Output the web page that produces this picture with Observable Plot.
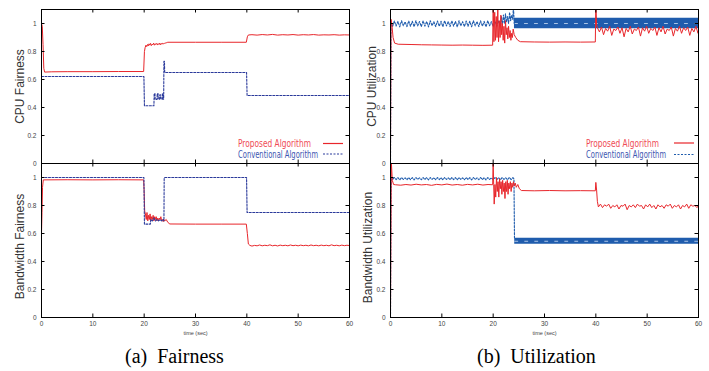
<!DOCTYPE html>
<html><head><meta charset="utf-8">
<script src="https://cdn.jsdelivr.net/npm/d3@7"></script>
<script src="https://cdn.jsdelivr.net/npm/@observablehq/plot@0.6"></script>
<style>
html,body{margin:0;padding:0;background:#fff;}
#root{position:relative;width:709px;height:371px;overflow:hidden;background:#fff;}
.panel{position:absolute;}
.cap{position:absolute;font-family:"Liberation Serif","Times New Roman",serif;font-size:20px;line-height:1;color:#000;white-space:pre;}
#legend{position:absolute;left:0;top:0;}
</style></head><body><div id="root"></div>
<script>
// ---------- labels ----------
const xTicks = [0, 10, 20, 30, 40, 50, 60];
const yTicks = [0, 0.2, 0.4, 0.6, 0.8, 1];
const panelLabels = ["CPU Fairness", "Bandwidth Fairness", "CPU Utilization", "Bandwidth Utilization"];
const seriesNames = ["Proposed Algorithm", "Conventional Algorithm"];
const captionTags = ["(a)", "(b)"];
const captionWords = ["Fairness", "Utilization"];
const xLabel = "time (sec)";

// ---------- data: [time (sec), value] ----------
const propCpuFair = [[0,1.0],[0.15,0.98],[0.3,0.85],[0.45,0.68],[0.6,0.653],[2,0.655],[5,0.656],[10,0.656],[15,0.657],[19.9,0.657],
 [20.05,0.8],[20.2,0.83],[20.35,0.845],[20.5,0.835],[20.65,0.85],[20.8,0.84],[20.95,0.855],[21.1,0.845],[21.25,0.858],[21.4,0.842],
 [21.55,0.852],[21.7,0.848],[21.85,0.86],[22,0.845],[22.15,0.855],[22.3,0.85],[22.45,0.858],[22.6,0.846],[22.75,0.856],[22.9,0.85],
 [23.05,0.86],[23.2,0.848],[23.35,0.857],[23.5,0.852],[23.65,0.86],[23.8,0.855],[23.95,0.858],[24.1,0.86],[24.3,0.862],[24.6,0.866],
 [30,0.866],[35,0.866],[39.9,0.866],[40.1,0.905],[40.3,0.918],[41,0.92],[42,0.917],[43,0.921],[44,0.918],[45,0.922],[46,0.917],
 [47,0.92],[48,0.918],[49,0.921],[50,0.917],[51,0.92],[52,0.918],[53,0.921],[54,0.917],[55,0.919],[56,0.918],[57,0.92],[58,0.917],[59,0.919],[60,0.918]];
const convCpuFair = [[0,0.621],[19.95,0.621],[20.05,0.413],[21.9,0.413],[21.95,0.5],[22.1,0.5],[22.15,0.458],[22.5,0.458],[22.55,0.5],
 [22.7,0.5],[22.75,0.46],[23.0,0.46],[23.05,0.49],[23.2,0.49],[23.25,0.46],[23.5,0.46],[23.55,0.5],[23.65,0.5],[23.7,0.46],[23.8,0.46],
 [23.85,0.73],[23.95,0.73],[24.0,0.65],[39.95,0.65],[40.05,0.486],[60,0.486]];
const propBwFair = [[0,0.6],[0.1,0.75],[0.2,0.93],[0.35,0.983],[5,0.984],[10,0.983],[15,0.984],[19.9,0.983],[20.0,0.9],[20.1,0.76],
 [20.25,0.74],[20.4,0.7],[20.55,0.75],[20.7,0.69],[20.85,0.73],[21.0,0.7],[21.15,0.74],[21.3,0.69],[21.45,0.72],[21.6,0.7],[21.75,0.73],
 [21.9,0.69],[22.05,0.72],[22.2,0.7],[22.35,0.72],[22.5,0.69],[22.65,0.71],[22.8,0.69],[22.95,0.71],[23.1,0.7],[23.25,0.72],[23.4,0.69],
 [23.55,0.7],[23.7,0.685],[23.85,0.7],[24.0,0.69],[24.3,0.7],[24.6,0.68],[25,0.668],[30,0.667],[35,0.667],[39.9,0.667],[40.1,0.6],
 [40.3,0.525],[40.6,0.515],[41,0.51],[41.5,0.515],[42,0.512],[42.5,0.518],[43,0.512],[43.5,0.516],[44,0.513],[44.5,0.519],[45,0.512],
 [45.5,0.516],[46,0.511],[46.5,0.517],[47,0.513],[47.5,0.516],[48,0.512],[48.5,0.518],[49,0.513],[49.5,0.516],[50,0.512],[50.5,0.517],
 [51,0.513],[51.5,0.516],[52,0.512],[52.5,0.518],[53,0.513],[53.5,0.516],[54,0.512],[54.5,0.517],[55,0.513],[55.5,0.516],[56,0.512],
 [56.5,0.519],[57,0.513],[57.5,0.516],[58,0.512],[58.5,0.517],[59,0.513],[59.5,0.516],[60,0.514]];
const convBwFair = [[0,1],[19.95,1],[20.05,0.667],[21.2,0.667],[21.3,0.7],[21.6,0.69],[21.9,0.71],[22.2,0.69],[22.5,0.7],[22.8,0.69],
 [23.1,0.7],[23.4,0.69],[23.7,0.7],[23.85,0.69],[23.9,1],[39.95,1],[40.05,0.75],[60,0.75]];

const propCpuUtil = [[0,0],[0.1,1.03],[0.25,1.0],[0.5,0.9],[0.8,0.86],[1.5,0.852],[4,0.85],[6,0.848],[8,0.847],[10,0.846],[12,0.845],
 [14,0.846],[16,0.845],[18,0.844],[19.9,0.845],[20.0,1.15],[20.15,0.87],[20.3,1.08],[20.45,0.88],[20.6,1.05],[20.75,0.9],[20.9,1.1],
 [21.05,0.87],[21.2,1.02],[21.35,0.9],[21.5,1.06],[21.65,0.92],[21.8,1.0],[21.95,0.88],[22.1,0.98],[22.25,0.86],[22.4,1.02],[22.55,0.92],
 [22.7,0.97],[22.85,0.89],[23.0,0.98],[23.15,0.9],[23.3,0.95],[23.45,0.88],[23.6,0.93],[23.75,0.9],[23.9,0.96],[24.1,0.92],[24.4,0.9],
 [24.8,0.88],[25.3,0.87],[28,0.868],[31,0.867],[34,0.868],[37,0.867],[39.9,0.868],[40.0,1.15],[40.15,0.99],
 [40.3,0.97],[40.7,0.94],[41.1,0.975],[41.5,0.92],[41.9,0.965],[42.3,0.945],[42.7,0.98],[43.1,0.915],[43.5,0.96],[43.9,0.95],[44.3,0.975],
 [44.7,0.93],[45.1,0.97],[45.5,0.905],[45.9,0.965],[46.3,0.94],[46.7,0.98],[47.1,0.925],[47.5,0.96],[47.9,0.95],[48.3,0.975],[48.7,0.91],
 [49.1,0.97],[49.5,0.945],[49.9,0.98],[50.3,0.93],[50.7,0.965],[51.1,0.95],[51.5,0.975],[51.9,0.915],[52.3,0.97],[52.7,0.94],[53.1,0.98],
 [53.5,0.925],[53.9,0.96],[54.3,0.95],[54.7,0.975],[55.1,0.91],[55.5,0.965],[55.9,0.945],[56.3,0.98],[56.7,0.93],[57.1,0.97],[57.5,0.95],
 [57.9,0.975],[58.3,0.915],[58.7,0.965],[59.1,0.94],[59.5,0.98],[59.9,0.93],[60,0.95]];
const convCpuUtil = [[0,0],[0.1,0.98],[0.2,1.0],[0.4,0.978],[0.75,1.018],[1.1,0.982],[1.45,1.015],[1.8,0.976],[2.15,1.02],[2.5,0.984],
 [2.85,1.012],[3.2,0.978],[3.55,1.018],[3.9,0.98],[4.25,1.016],[4.6,0.977],[4.95,1.02],[5.3,0.983],[5.65,1.014],[6.0,0.978],[6.35,1.019],
 [6.7,0.981],[7.05,1.015],[7.4,0.976],[7.75,1.02],[8.1,0.984],[8.45,1.013],[8.8,0.978],[9.15,1.018],[9.5,0.98],[9.85,1.016],[10.2,0.977],
 [10.55,1.02],[10.9,0.983],[11.25,1.014],[11.6,0.978],[11.95,1.019],[12.3,0.981],[12.65,1.015],[13.0,0.976],[13.35,1.02],[13.7,0.984],
 [14.05,1.013],[14.4,0.978],[14.75,1.018],[15.1,0.98],[15.45,1.016],[15.8,0.977],[16.15,1.02],[16.5,0.983],[16.85,1.014],[17.2,0.978],
 [17.55,1.019],[17.9,0.981],[18.25,1.015],[18.6,0.976],[18.95,1.02],[19.3,0.984],[19.65,1.013],[20.0,0.978],[20.35,1.018],[20.7,0.98],
 [21.05,1.02],[21.4,0.985],[21.6,1.05],[21.8,0.99],[22.0,1.06],[22.2,1.0],[22.4,1.07],[22.6,1.01],[22.8,1.05],[23.0,1.0],[23.2,1.08],
 [23.4,1.02],[23.6,1.06],[23.8,1.03],[23.95,1.12],[24.1,1.0]];
const convCpuUtilBand = [[24.15,0.963,1.037],[60,0.963,1.037]]; // [time, low, high]

const propBwUtil = [[0,0],[0.15,1.12],[0.35,0.98],[0.6,0.95],[1,0.948],[2,0.945],[3,0.95],[4,0.946],[5,0.952],[6,0.947],[7,0.95],
 [8,0.944],[9,0.951],[10,0.947],[11,0.953],[12,0.946],[13,0.95],[14,0.945],[15,0.951],[16,0.947],[17,0.952],[18,0.946],[19,0.95],
 [19.9,0.948],[20.0,1.1],[20.1,0.95],[20.2,0.81],[20.35,0.95],[20.5,0.86],[20.65,1.0],[20.8,0.9],[20.95,0.97],[21.1,0.86],[21.25,0.99],
 [21.4,0.92],[21.55,0.97],[21.7,0.88],[21.85,0.98],[22.0,0.9],[22.15,0.96],[22.3,0.85],[22.45,0.97],[22.6,0.9],[22.75,0.98],[22.9,0.88],
 [23.05,0.96],[23.2,0.92],[23.35,0.97],[23.5,0.9],[23.65,0.96],[23.8,0.93],[23.95,0.97],[24.1,0.94],[24.3,0.96],[24.5,0.93],[24.8,0.95],
 [25.1,0.92],[25.5,0.907],[28,0.905],[31,0.907],[34,0.905],[37,0.906],[39.9,0.905],[40.0,0.965],[40.15,0.91],[40.3,0.83],
 [40.5,0.79],[40.9,0.81],[41.3,0.785],[41.7,0.805],[42.1,0.795],[42.5,0.81],[42.9,0.78],[43.3,0.8],[43.7,0.79],[44.1,0.805],[44.5,0.775],
 [44.9,0.8],[45.3,0.795],[45.7,0.81],[46.1,0.77],[46.5,0.8],[46.9,0.79],[47.3,0.805],[47.7,0.785],[48.1,0.81],[48.5,0.795],[48.9,0.8],
 [49.3,0.775],[49.7,0.805],[50.1,0.79],[50.5,0.81],[50.9,0.785],[51.3,0.8],[51.7,0.775],[52.1,0.805],[52.5,0.79],[52.9,0.8],[53.3,0.78],
 [53.7,0.805],[54.1,0.795],[54.5,0.81],[54.9,0.78],[55.3,0.8],[55.7,0.79],[56.1,0.805],[56.5,0.775],[56.9,0.8],[57.3,0.79],[57.7,0.81],
 [58.1,0.78],[58.5,0.805],[58.9,0.795],[59.3,0.8],[59.7,0.785],[60,0.8]];
const convBwUtil = [[0,0],[0.1,0.9],[0.2,1.0],[0.4,0.984],[0.75,1.0],[1.1,0.985],[1.45,0.999],[1.8,0.983],[2.15,1.0],[2.5,0.986],
 [2.85,0.998],[3.2,0.984],[3.55,1.0],[3.9,0.985],[4.25,0.999],[4.6,0.983],[4.95,1.0],[5.3,0.986],[5.65,0.998],[6.0,0.984],[6.35,1.0],
 [6.7,0.985],[7.05,0.999],[7.4,0.983],[7.75,1.0],[8.1,0.986],[8.45,0.998],[8.8,0.984],[9.15,1.0],[9.5,0.985],[9.85,0.999],[10.2,0.983],
 [10.55,1.0],[10.9,0.986],[11.25,0.998],[11.6,0.984],[11.95,1.0],[12.3,0.985],[12.65,0.999],[13.0,0.983],[13.35,1.0],[13.7,0.986],
 [14.05,0.998],[14.4,0.984],[14.75,1.0],[15.1,0.985],[15.45,0.999],[15.8,0.983],[16.15,1.0],[16.5,0.986],[16.85,0.998],[17.2,0.984],
 [17.55,1.0],[17.9,0.985],[18.25,0.999],[18.6,0.983],[18.95,1.0],[19.3,0.986],[19.65,0.998],[20.0,0.984],[20.35,1.0],[20.7,0.985],
 [21.05,0.999],[21.4,0.983],[21.75,1.0],[22.1,0.986],[22.45,0.998],[22.8,0.984],[23.15,1.0],[23.5,0.985],[23.85,0.999],[24.05,0.99],
 [24.15,0.57]];
const convBwUtilBand = [[24.2,0.523,0.566],[60,0.523,0.566]];

// ---------- colours ----------
const RED = "#e8262b";
const BLUE_A = "#2b3a9b";
const BLUE_B = "#1f5cad";

const root = document.getElementById("root");
const rows = (a) => a.map(([t, v]) => ({t, v}));
const bandRows = (a) => a.map(([t, lo, hi]) => ({t, lo, hi, mid: (lo + hi) / 2}));

function panel(o) {
  const W = o.width, H = o.height;
  const iw = W - o.ml - o.mr, ih = H - o.mt - o.mb;
  const marks = [];
  const red = Plot.line(rows(o.prop), {x: "t", y: "v", stroke: RED, strokeWidth: 1, clip: true});
  const blueMarks = [];
  if (o.band) {
    blueMarks.push(Plot.areaY(bandRows(o.band), {x: "t", y1: "lo", y2: "hi", fill: o.blue, clip: true}));
    blueMarks.push(Plot.line(bandRows(o.band), {x: "t", y: "mid", stroke: "#cfe0f5", strokeWidth: 0.8, strokeDasharray: "3,7", clip: true}));
  }
  blueMarks.push(Plot.line(rows(o.conv), {x: "t", y: "v", stroke: o.blue, strokeWidth: 1.1, strokeDasharray: "2,1.5", clip: true}));
  if (o.redOnTop) { marks.push(...blueMarks, red); } else { marks.push(red, ...blueMarks); }
  marks.push(
    Plot.frame({stroke: "#000", strokeWidth: 1}),
    Plot.tickY(yTicks, {y: d => d, insetRight: iw - 3.5, stroke: "#000"}),
    Plot.tickY(yTicks, {y: d => d, insetLeft: iw - 3.5, stroke: "#000"}),
    Plot.tickX(xTicks, {x: d => d, insetTop: ih - 3.5, stroke: "#000"}),
    Plot.tickX(xTicks, {x: d => d, insetBottom: ih - 3.5, stroke: "#000"}),
    Plot.text([o.label], {frameAnchor: "left", rotate: -90, dx: o.labelDx, dy: o.labelDy || 0, fontSize: 12, fill: "#333", textAnchor: "middle"})
  );
  if (o.showX) marks.push(Plot.text([xLabel], {frameAnchor: "bottom", dy: 17, fontSize: 5.5, fill: "#444"}));
  const p = Plot.plot({
    width: W, height: H, marginLeft: o.ml, marginRight: o.mr, marginTop: o.mt, marginBottom: o.mb,
    style: {fontFamily: "'Liberation Sans', Arial, sans-serif", fontSize: "6.5px", color: "#444", background: "transparent", overflow: "visible"},
    x: {domain: [0, 60], ticks: xTicks, tickSize: 0, tickPadding: 4, tickFormat: d => String(d), label: null, axis: o.showX ? "bottom" : null},
    y: {domain: [0, 1.1], ticks: yTicks, tickSize: 0, tickPadding: 5, tickFormat: d => String(d), label: null},
    marks
  });
  const div = document.createElement("div");
  div.className = "panel";
  div.style.left = o.left + "px";
  div.style.top = o.top + "px";
  div.appendChild(p);
  root.appendChild(div);
}

const topGeom = {width: 360, height: 173, ml: 41, mr: 11, mt: 9, mb: 10, top: 0};
const botGeom = {width: 360, height: 193, ml: 41, mr: 11, mt: 9, mb: 30, top: 154};

panel({...topGeom, left: 0, prop: propCpuFair, conv: convCpuFair, blue: BLUE_A, label: panelLabels[0], labelDx: -21, showX: false});
panel({...botGeom, left: 0, prop: propBwFair, conv: convBwFair, blue: BLUE_A, label: panelLabels[1], labelDx: -21, labelDy: 6, showX: true});
panel({...topGeom, left: 350, ml: 40, width: 359, prop: propCpuUtil, conv: convCpuUtil, band: convCpuUtilBand, blue: BLUE_B, label: panelLabels[2], labelDx: -18.5, showX: false, redOnTop: true});
panel({...botGeom, left: 350, ml: 40, width: 359, prop: propBwUtil, conv: convBwUtil, band: convBwUtilBand, blue: BLUE_B, label: panelLabels[3], labelDx: -22, labelDy: 7, showX: true, redOnTop: true});

// ---------- legends (inside the top panels) ----------
const NS = "http://www.w3.org/2000/svg";
const lg = document.createElementNS(NS, "svg");
lg.setAttribute("id", "legend");
lg.setAttribute("width", 709); lg.setAttribute("height", 371);
lg.style.pointerEvents = "none";
function legend(x, y0, y1, lineX1, lineX2, blue) {
  const items = [[seriesNames[0], "#ef4a55", RED, null, y0, 73], [seriesNames[1], "#3b55b0", blue, "2,1.5", y1, 80]];
  for (const [name, tcol, lcol, dash, y, len] of items) {
    const t = document.createElementNS(NS, "text");
    t.setAttribute("x", x); t.setAttribute("y", y);
    t.setAttribute("dy", "0.35em");
    t.setAttribute("fill", tcol);
    t.setAttribute("font-family", "'Liberation Sans Narrow','DejaVu Sans Condensed','Liberation Sans',sans-serif");
    t.setAttribute("font-size", "10");
    t.setAttribute("textLength", len);
    t.setAttribute("lengthAdjust", "spacingAndGlyphs");
    t.textContent = name;
    lg.appendChild(t);
    const l = document.createElementNS(NS, "line");
    l.setAttribute("x1", lineX1); l.setAttribute("x2", lineX2);
    l.setAttribute("y1", y); l.setAttribute("y2", y);
    l.setAttribute("stroke", lcol); l.setAttribute("stroke-width", 1.2);
    if (dash) l.setAttribute("stroke-dasharray", dash);
    lg.appendChild(l);
  }
}
legend(238, 143.5, 154, 323, 343, BLUE_A);
legend(586, 143, 154.5, 674, 694, BLUE_B);
root.appendChild(lg);

// ---------- captions ----------
function caption(i, left) {
  const d = document.createElement("div");
  d.className = "cap";
  d.style.left = left + "px";
  d.style.top = "346px";
  d.textContent = captionTags[i] + "  " + captionWords[i];
  root.appendChild(d);
}
caption(0, 125);
caption(1, 477);
</script></body></html>
